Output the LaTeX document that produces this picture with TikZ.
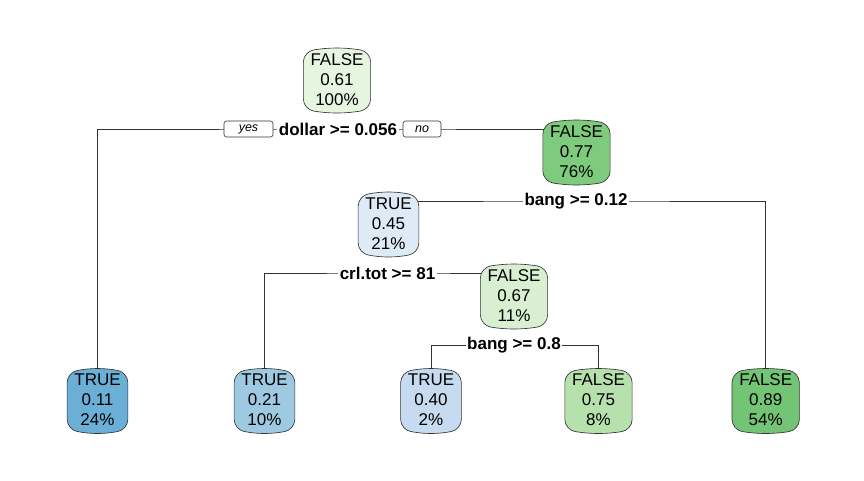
\documentclass[tikz,border=0pt]{standalone}
\usepackage{fontspec}
\setmainfont{Liberation Sans}
\usetikzlibrary{calc}
\pgfdeclarelayer{bg}
\pgfdeclarelayer{shapes}
\pgfsetlayers{bg,shapes,main}
\definecolor{cRoot}{HTML}{E6F5E0}
\definecolor{cNtwo}{HTML}{7FCB7D}
\definecolor{cNthree}{HTML}{DEEBF7}
\definecolor{cNsix}{HTML}{D8EFD2}
\definecolor{cLone}{HTML}{6BAED6}
\definecolor{cLtwo}{HTML}{9ECAE1}
\definecolor{cLthree}{HTML}{C6DBEF}
\definecolor{cLfour}{HTML}{B6E1AD}
\definecolor{cLfive}{HTML}{74C476}
\tikzset{
  treenode/.style={align=center, inner xsep=7pt, inner ysep=0pt,
    font=\fontsize{17}{20}\selectfont},
  boxline/.style={draw=black!80, line width=0.65pt},
  splitlab/.style={fill=white, inner sep=1.5pt, font=\bfseries\fontsize{17}{20}\selectfont},
  yesno/.style={draw=black!80, fill=white, line width=0.6pt, rounded corners=2.5pt, inner sep=0pt,
    minimum height=16pt, font=\itshape\fontsize{12.5}{14}\selectfont},
  conn/.style={draw=black!80, line width=0.65pt}
}
\newcommand\treeshape[2]{%
  \path[boxline, fill=#2] let \p1=(#1.west), \p2=(#1.east), \p0=(#1.center) in
    (\x1,{\y0+17.5pt}) -- (\x1,{\y0-19.5pt})
    .. controls (\x1,{\y0-25.5pt}) and ({\x1+5pt},{\y0-30.67pt}) .. ({\x1+10pt},{\y0-31.5pt})
    .. controls ({\x1+(\x2-\x1)/3+3.333pt},{\y0-34.167pt}) and ({\x2-(\x2-\x1)/3-3.333pt},{\y0-34.167pt}) .. ({\x2-10pt},{\y0-31.5pt})
    .. controls ({\x2-5pt},{\y0-30.67pt}) and (\x2,{\y0-25.5pt}) .. (\x2,{\y0-19.5pt})
    -- (\x2,{\y0+17.5pt})
    .. controls (\x2,{\y0+23.5pt}) and ({\x2-5pt},{\y0+28.67pt}) .. ({\x2-10pt},{\y0+29.5pt})
    .. controls ({\x2-(\x2-\x1)/3-3.333pt},{\y0+32.167pt}) and ({\x1+(\x2-\x1)/3+3.333pt},{\y0+32.167pt}) .. ({\x1+10pt},{\y0+29.5pt})
    .. controls ({\x1+5pt},{\y0+28.67pt}) and (\x1,{\y0+23.5pt}) .. cycle;%
}
\begin{document}
\begin{tikzpicture}[x=1pt,y=-1pt]
\useasboundingbox (0,0) rectangle (864,480);
% nodes (text)
\node[treenode] (n1) at (337,79.5) {FALSE\\0.61\\100\%};
\node[treenode] (n2) at (576.5,151.5) {FALSE\\0.77\\76\%};
\node[treenode] (n3) at (388.5,223.5) {TRUE\\0.45\\21\%};
\node[treenode] (n6) at (514,295.5) {FALSE\\0.67\\11\%};
\node[treenode] (l1) at (97.5,400) {TRUE\\0.11\\24\%};
\node[treenode] (l2) at (264.5,400) {TRUE\\0.21\\10\%};
\node[treenode] (l3) at (431,400) {TRUE\\0.40\\2\%};
\node[treenode] (l4) at (598.5,400) {FALSE\\0.75\\8\%};
\node[treenode] (l5) at (765.7,400) {FALSE\\0.89\\54\%};
% split labels
\node[splitlab] (s1) at (338,129) {dollar >= 0.056};
\node[splitlab] (s2) at (576,201) {bang >= 0.12};
\node[splitlab] (s3) at (387.5,273) {crl.tot >= 81};
\node[splitlab] (s6) at (514,345) {bang >= 0.8};
\node[yesno, minimum width=49pt] (yes) at (248.5,129) {yes};
\node[yesno, minimum width=38pt] (no) at (422,129) {no};
% box shapes
\begin{pgfonlayer}{shapes}
\treeshape{n1}{cRoot}
\treeshape{n2}{cNtwo}
\treeshape{n3}{cNthree}
\treeshape{n6}{cNsix}
\treeshape{l1}{cLone}
\treeshape{l2}{cLtwo}
\treeshape{l3}{cLthree}
\treeshape{l4}{cLfour}
\treeshape{l5}{cLfive}
\end{pgfonlayer}
% connectors
\begin{pgfonlayer}{bg}
\draw[conn] (l1.center) |- (s1.center) -| (n2.center);
\draw[conn] (n3.center) |- (s2.center) -| (l5.center);
\draw[conn] (l2.center) |- (s3.center) -| (n6.center);
\draw[conn] (l3.center) |- (s6.center) -| (l4.center);
\end{pgfonlayer}
\end{tikzpicture}
\end{document}
